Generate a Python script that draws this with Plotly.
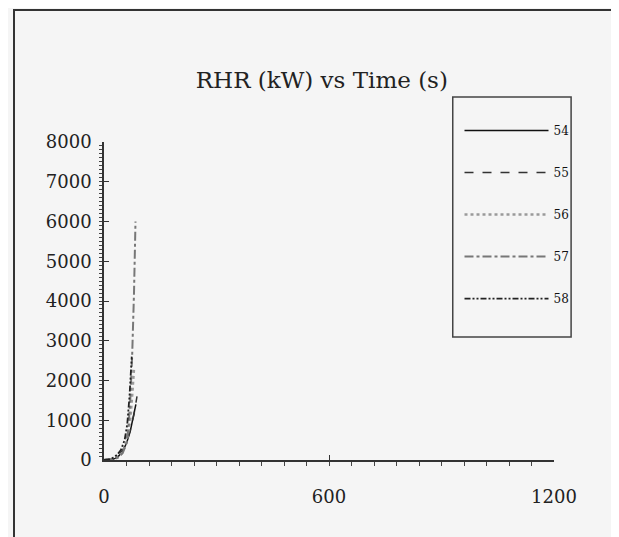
import plotly.graph_objects as go

# Time (s) and rate of heat release (kW) for each test
t54 = [0, 20, 30, 40, 50, 60, 70, 78, 85]
q54 = [0, 10, 40, 110, 230, 420, 720, 1050, 1400]
t55 = [0, 20, 30, 40, 50, 60, 70, 80, 88]
q55 = [0, 15, 50, 120, 250, 450, 750, 1150, 1600]
t56 = [0, 20, 30, 40, 50, 60, 70, 75, 80]
q56 = [0, 10, 30, 80, 200, 450, 1000, 1600, 2300]
t57 = [0, 20, 30, 40, 50, 60, 65, 70, 75, 80, 84]
q57 = [0, 10, 30, 80, 180, 420, 800, 1500, 2600, 4200, 6000]
t58 = [0, 15, 25, 35, 45, 55, 62, 68, 74]
q58 = [0, 20, 60, 130, 250, 500, 900, 1600, 2600]

labels = ["54", "55", "56", "57", "58"]
xs = [t54, t55, t56, t57, t58]
ys = [q54, q55, q56, q57, q58]
colors = ["#111111", "#333333", "#9a9a9a", "#777777", "#222222"]
dashes = ["solid", "dash", "dot", "dashdot", "6px,2px,2px,2px,2px,2px"]
widths = [1.5, 1.5, 2.5, 2, 1.8]

fig = go.Figure()
for i in range(5):
    fig.add_trace(go.Scatter(x=xs[i], y=ys[i], mode="lines", name=labels[i],
                             legendgroup=labels[i],
                             line=dict(color=colors[i], dash=dashes[i], width=widths[i])))

serif = "DejaVu Serif, Liberation Serif, serif"
fig.update_layout(
    width=619, height=537,
    margin=dict(l=96, r=73, t=134, b=85),
    paper_bgcolor="#f5f5f5", plot_bgcolor="#f5f5f5",
    font=dict(family=serif, size=18, color="#222"),
    title=dict(text="RHR (kW) vs Time (s)", x=0.507, xanchor="center", y=0.866, yanchor="middle",
               font=dict(family=serif, size=23, color="#222")),
    showlegend=True,
    legend=dict(x=0.79, y=1.0816, xanchor="left", yanchor="top",
                borderwidth=0, bgcolor="rgba(0,0,0,0)",
                tracegroupgap=23, itemwidth=84,
                font=dict(family=serif, size=12, color="#111")),
    shapes=[
        # outer frame
        dict(type="rect", xref="paper", yref="paper", x0=-0.2, x1=1.129,
             y0=-0.35, y1=1.415, line=dict(color="#333", width=2)),
        # legend box
        dict(type="rect", xref="paper", yref="paper", x0=0.775, x1=1.038,
             y0=0.387, y1=1.1415, line=dict(color="#444", width=1.5)),
    ],
)
fig.update_xaxes(range=[0, 1200], tickvals=[0, 600, 1200], showgrid=False, zeroline=False,
                 showline=True, linecolor="#333", linewidth=1.5,
                 ticks="inside", ticklen=5, tickcolor="#333",
                 minor=dict(dtick=60, ticks="outside", ticklen=4, tickcolor="#444"),
                 ticklabelstandoff=20)
fig.update_yaxes(range=[0, 8000], dtick=1000, showgrid=False, zeroline=False,
                 showline=True, linecolor="#333", linewidth=1.5,
                 ticks="inside", ticklen=5, tickcolor="#333",
                 minor=dict(dtick=100, ticks="outside", ticklen=3, tickcolor="#444"),
                 ticklabelstandoff=7)

fig.write_html("out.html")
